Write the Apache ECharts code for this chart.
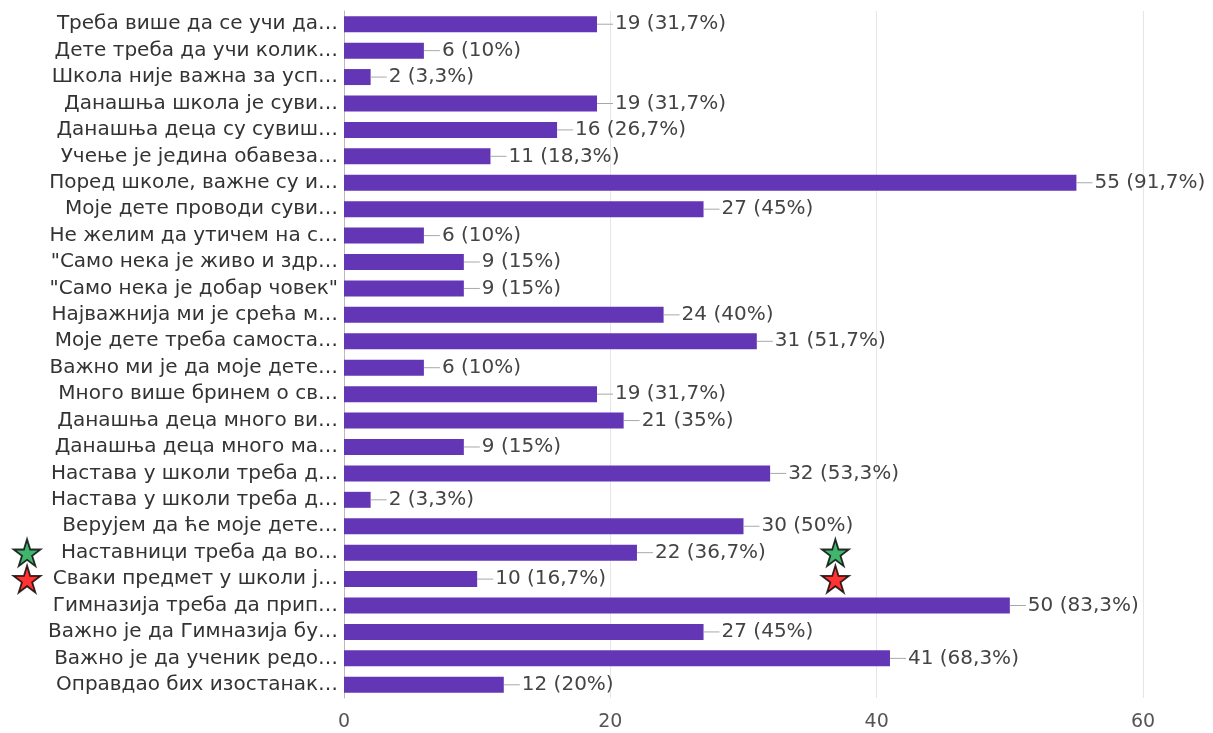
<!DOCTYPE html>
<html>
<head>
<meta charset="UTF-8">
<title>Chart</title>
<script src="https://cdn.jsdelivr.net/npm/echarts@6/dist/echarts.min.js"></script>
<style>
  html, body { margin: 0; padding: 0; background: #fff; }
  #chart { width: 1213px; height: 733px; }
</style>
</head>
<body>
<div id="chart"></div>
<script>
// categories, top to bottom
var categories = [
  'Треба више да се учи да…',
  'Дете треба да учи колик…',
  'Школа није важна за усп…',
  'Данашња школа је суви…',
  'Данашња деца су сувиш…',
  'Учење је једина обавеза…',
  'Поред школе, важне су и…',
  'Моје дете проводи суви…',
  'Не желим да утичем на с…',
  '"Само нека је живо и здр…',
  '"Само нека је добар човек"',
  'Најважнија ми је срећа м…',
  'Моје дете треба самоста…',
  'Важно ми је да моје дете…',
  'Много више бринем о св…',
  'Данашња деца много ви…',
  'Данашња деца много ма…',
  'Настава у школи треба д…',
  'Настава у школи треба д…',
  'Верујем да ће моје дете…',
  'Наставници треба да во…',
  'Сваки предмет у школи ј…',
  'Гимназија треба да прип…',
  'Важно је да Гимназија бу…',
  'Важно је да ученик редо…',
  'Оправдао бих изостанак…'
];
var counts = [19, 6, 2, 19, 16, 11, 55, 27, 6, 9, 9, 24, 31, 6, 19, 21, 9, 32, 2, 30, 22, 10, 50, 27, 41, 12];
var percents = ['31,7%', '10%', '3,3%', '31,7%', '26,7%', '18,3%', '91,7%', '45%', '10%', '15%', '15%', '40%',
  '51,7%', '10%', '31,7%', '35%', '15%', '53,3%', '3,3%', '50%', '36,7%', '16,7%', '83,3%', '45%', '68,3%', '20%'];
var xTicks = [0, 20, 40, 60];

// star annotations: [x value, category]
var greenStars = [[-23.8, 'Наставници треба да во…'], [36.9, 'Наставници треба да во…']];
var redStars = [[-23.8, 'Сваки предмет у школи ј…'], [36.9, 'Сваки предмет у школи ј…']];

var starPath = 'path://M50 0 L61.17 34.63 L97.55 34.55 L68.07 55.87 L79.39 90.45 L50 69 L20.61 90.45 L31.93 55.87 L2.45 34.55 L38.83 34.63 Z';

var myChart = echarts.init(document.getElementById('chart'));
var font = '"DejaVu Sans", Verdana, sans-serif';

var option = {
  animation: false,
  textStyle: { fontFamily: font },
  grid: { left: 344, right: 70, top: 11, bottom: 35, containLabel: false },
  xAxis: {
    type: 'value',
    min: xTicks[0],
    max: xTicks[xTicks.length - 1],
    interval: 20,
    axisLine: { show: false },
    axisTick: { show: false },
    axisLabel: { fontSize: 19, color: '#555', margin: 15, fontFamily: font },
    splitLine: { lineStyle: { color: '#e6e6e6', width: 1 } }
  },
  yAxis: {
    type: 'category',
    inverse: true,
    data: categories,
    axisLine: { show: true, lineStyle: { color: '#b9b9b9', width: 1 } },
    axisTick: { show: false },
    axisLabel: { fontSize: 20, color: '#333', margin: 6, fontFamily: font }
  },
  series: [
    {
      type: 'bar',
      data: counts,
      barWidth: 16,
      itemStyle: { color: '#6236b5' },
      label: {
        show: true,
        position: 'right',
        distance: 0,
        formatter: function (p) {
          return '{l| }{t|' + counts[p.dataIndex] + ' (' + percents[p.dataIndex] + ')}';
        },
        rich: {
          l: { width: 16, height: 1, backgroundColor: '#a8a8a8' },
          t: { fontSize: 20, color: '#444', fontFamily: font, padding: [0, 0, 0, 2] }
        }
      }
    },
    {
      type: 'scatter',
      data: greenStars,
      symbol: starPath,
      symbolSize: 27,
      clip: false,
      z: 5,
      itemStyle: { color: '#12a14a', borderColor: '#000', borderWidth: 1.8 }
    },
    {
      type: 'scatter',
      data: redStars,
      symbol: starPath,
      symbolSize: 27,
      clip: false,
      z: 5,
      itemStyle: { color: '#ff0000', borderColor: '#000', borderWidth: 1.8 }
    }
  ]
};
myChart.setOption(option);
</script>
</body>
</html>
